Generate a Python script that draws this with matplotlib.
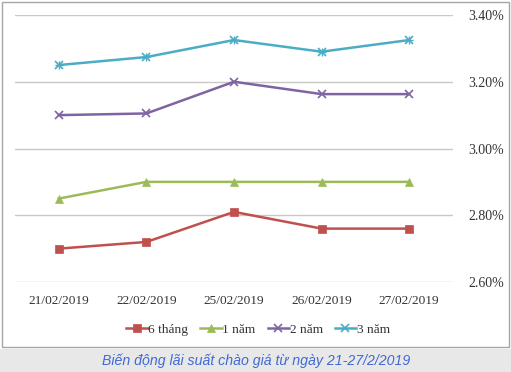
import matplotlib
matplotlib.use("Agg")
import matplotlib.pyplot as plt
from matplotlib.patches import Rectangle
from matplotlib.ticker import FuncFormatter

dates = ["21/02/2019", "22/02/2019", "25/02/2019", "26/02/2019", "27/02/2019"]
s6m = [2.70, 2.72, 2.81, 2.76, 2.76]
s1y = [2.85, 2.90, 2.90, 2.90, 2.90]
s2y = [3.10, 3.105, 3.20, 3.163, 3.163]
s3y = [3.25, 3.274, 3.325, 3.29, 3.325]
series_names = ["6 tháng", "1 năm", "2 năm", "3 năm"]
yticks = [2.60, 2.80, 3.00, 3.20, 3.40]
caption = "Biến động lãi suất chào giá từ ngày 21-27/2/2019"

W, H = 511, 372
fig = plt.figure(figsize=(W / 100, H / 100), dpi=100)
fig.patch.set_facecolor("white")

# caption band
fig.patches.append(Rectangle((0, 0), 1, 1 - 349 / H, transform=fig.transFigure,
                             facecolor="#e8e8e8", edgecolor="none", zorder=-2))
# chart border
fig.patches.append(Rectangle((2 / W, 1 - 347 / H), (509 - 2) / W, (347 - 2) / H,
                             transform=fig.transFigure, facecolor="white",
                             edgecolor="#a6a6a6", linewidth=1.0, zorder=-1))

ax = fig.add_axes([15 / W, 1 - 282 / H, (453 - 15) / W, (282 - 15) / H])
ax.set_zorder(1)
ax.set_facecolor("none")
x = list(range(len(dates)))
colors = ["#C0504D", "#9BBB59", "#8064A2", "#4BACC6"]
markers = ["s", "^", "x", "x"]
msizes = [6, 6, 6, 6]
data = [s6m, s1y, s2y, s3y]
for vals, name, c, m, ms in zip(data, series_names, colors, markers, msizes):
    ax.plot(x, vals, color=c, linewidth=1.8, marker=m, markersize=ms,
            markeredgewidth=1.2 if m == "x" else 0.5, label=name)
ax.plot(x, s3y, color=colors[3], linestyle="none", marker="+", markersize=6,
        markeredgewidth=1.0)

ax.set_xlim(-0.5, len(dates) - 0.5)
ax.set_ylim(2.60, 3.40)
ax.set_yticks(yticks)
ax.yaxis.set_major_formatter(FuncFormatter(lambda v, p: f"{v:.2f}%"))
ax.yaxis.tick_right()
ax.grid(axis="y", color="#c8c8c8", linewidth=1.0)
ax.set_axisbelow(True)
ax.set_xticks(x)
ax.set_xticklabels(dates)
for s in ax.spines.values():
    s.set_visible(False)
ax.tick_params(axis="x", length=0, labelsize=9.6, colors="#333333", pad=9)
ax.tick_params(axis="y", length=0, labelsize=10, colors="#333333", pad=11)
for lab in ax.get_xticklabels() + ax.get_yticklabels():
    lab.set_family("Liberation Serif")

leg = fig.legend(loc="center", bbox_to_anchor=(258 / W, 1 - 330 / H), ncol=4,
                 frameon=False, prop={"family": "Liberation Serif", "size": 9.6},
                 handlelength=1.6, handletextpad=0.05, columnspacing=0.9)
for t in leg.get_texts():
    t.set_color("#333333")

fig.text(256 / W, 1 - 361 / H, caption, ha="center", va="center",
         fontsize=10.2, style="italic", color="#4169d6", family="Liberation Sans")

fig.savefig("out.png", dpi=100)
